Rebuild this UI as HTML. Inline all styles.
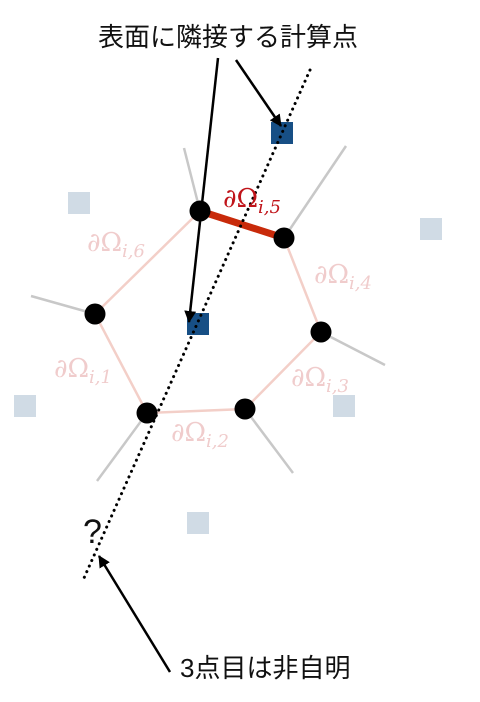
<!DOCTYPE html>
<html><head><meta charset="utf-8"><style>
html,body{margin:0;padding:0;background:#fff;width:480px;height:702px;overflow:hidden}
svg{display:block}
.jp{font-family:"Liberation Sans","Noto Sans CJK JP",sans-serif;fill:#111}
.m{font-family:"DejaVu Serif","Liberation Serif",serif;font-size:26px;fill:#f0cccc;font-weight:normal}
.m tspan.s{font-size:18px;font-style:italic}
</style></head><body>
<svg width="480" height="702" viewBox="0 0 480 702">
<defs><marker id="ah" markerWidth="12" markerHeight="12" refX="11" refY="6" orient="auto" markerUnits="userSpaceOnUse" viewBox="0 0 12 12"><path d="M0,0 L12,6 L0,12 z" fill="#000"/></marker></defs>
<g stroke="#c8c8c8" stroke-width="2.5">
<line x1="200" y1="211" x2="184" y2="148"/><line x1="284" y1="238" x2="346" y2="146"/>
<line x1="321" y1="332" x2="385" y2="365"/><line x1="245" y1="409" x2="293" y2="473"/>
<line x1="147" y1="413" x2="97" y2="481"/><line x1="95" y1="314" x2="31" y2="296"/>
</g>
<g stroke="#f3cfc8" stroke-width="2.5" fill="none">
<polyline points="284,238 321,332 245,409 147,413 95,314 200,211"/>
</g>
<line x1="200" y1="211" x2="284" y2="238" stroke="#c82a0a" stroke-width="7"/>
<g fill="#d0dbe5">
<rect x="68" y="192" width="22" height="22"/><rect x="420" y="218" width="22" height="22"/>
<rect x="14" y="395" width="22" height="22"/><rect x="333" y="395" width="22" height="22"/>
<rect x="187" y="512" width="22" height="22"/>
</g>
<g fill="#174f85">
<rect x="271" y="122" width="22" height="22"/><rect x="187" y="313" width="22" height="22"/>
</g>
<line x1="310" y1="70" x2="84" y2="578" stroke="#000" stroke-width="3" stroke-dasharray="0.1 6" stroke-linecap="round"/>
<g fill="#000">
<circle cx="200" cy="211" r="10.5"/><circle cx="284" cy="238" r="10.5"/><circle cx="321" cy="332" r="10.5"/>
<circle cx="245" cy="409" r="10.5"/><circle cx="147" cy="413" r="10.5"/><circle cx="95" cy="314" r="10.5"/>
</g>
<text class="m" x="223" y="207" style="fill:#c0141a">∂Ω<tspan class="s" dy="6">i,5</tspan></text>
<text class="m" x="87" y="251">∂Ω<tspan class="s" dy="6">i,6</tspan></text>
<text class="m" x="314" y="283">∂Ω<tspan class="s" dy="6">i,4</tspan></text>
<text class="m" x="54" y="377">∂Ω<tspan class="s" dy="6">i,1</tspan></text>
<text class="m" x="291" y="386">∂Ω<tspan class="s" dy="6">i,3</tspan></text>
<text class="m" x="171" y="441">∂Ω<tspan class="s" dy="6">i,2</tspan></text>
<g stroke="#000" stroke-width="2.5">
<line x1="218" y1="58" x2="189" y2="322" marker-end="url(#ah)"/>
<line x1="236" y1="60" x2="281" y2="126" marker-end="url(#ah)"/>
<line x1="170" y1="672" x2="99" y2="556" marker-end="url(#ah)"/>
</g>
<text class="jp" x="228" y="46" font-size="26" text-anchor="middle">表面に隣接する計算点</text>
<text class="jp" x="83" y="543" font-size="34">?</text>
<text class="jp" x="180" y="677" font-size="26">3点目は非自明</text>
</svg>
</body></html>
